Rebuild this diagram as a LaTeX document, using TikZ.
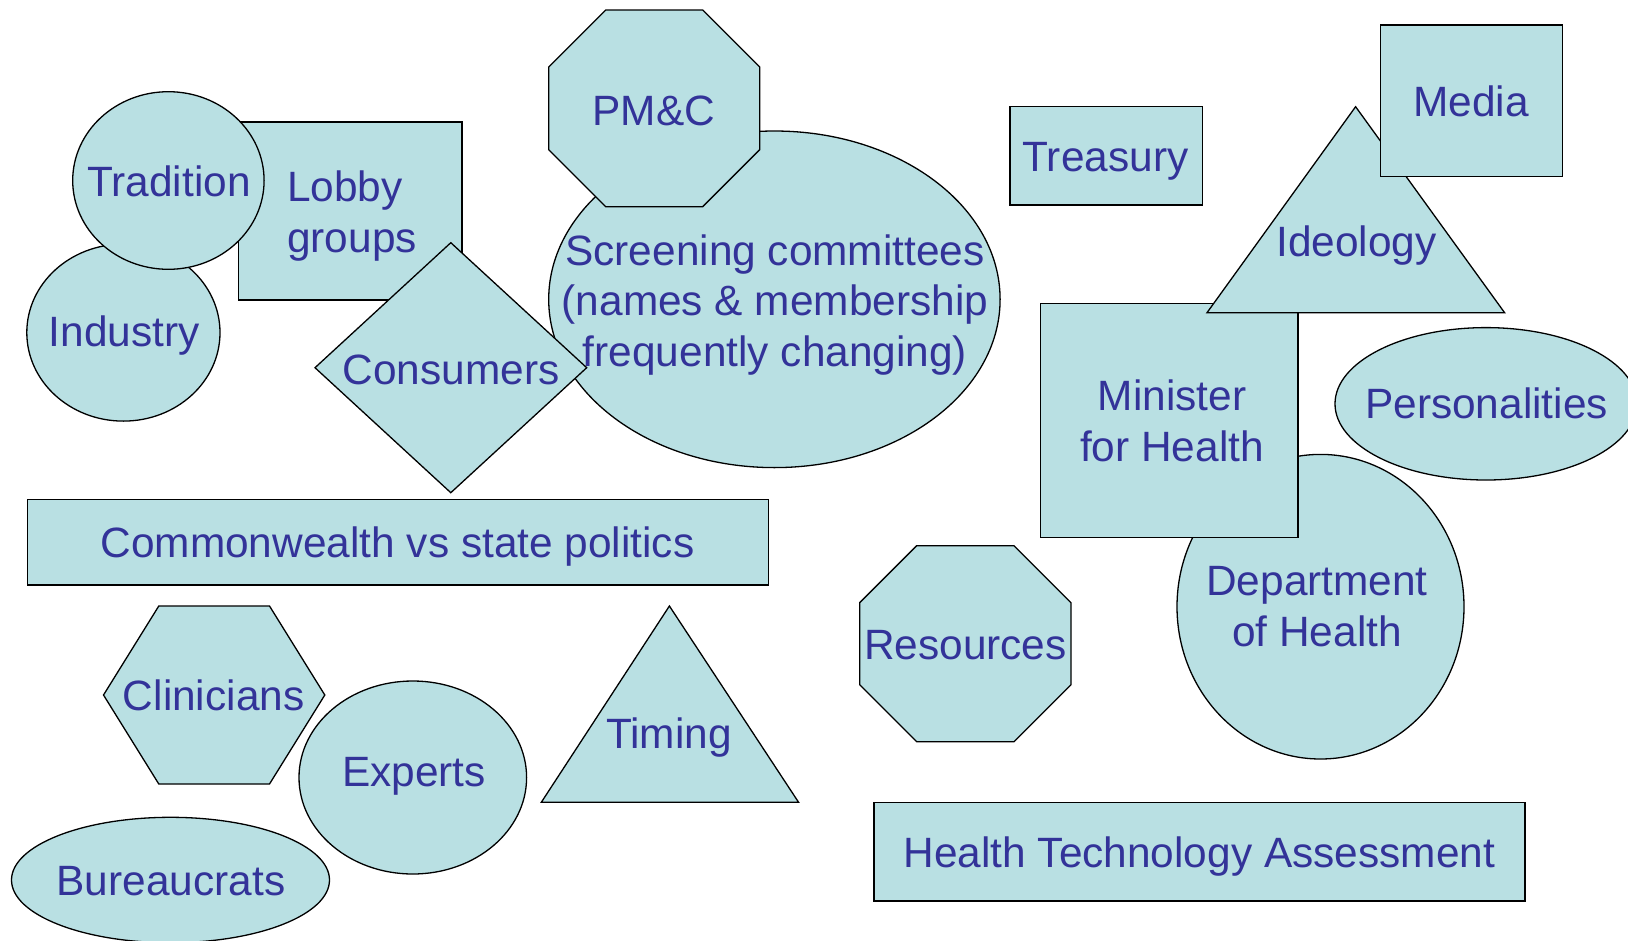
\documentclass[tikz,border=0pt]{standalone}
\usepackage{fontspec}
\setmainfont{Liberation Sans}
\definecolor{shapefill}{RGB}{185,224,227}
\definecolor{txtcol}{RGB}{51,51,153}
\begin{document}
\begin{tikzpicture}[x=1pt,y=-1pt,
  shp/.style={draw=black, fill=shapefill, line width=1.3pt, line join=miter},
  txt/.style={text=txtcol, font=\fontsize{42.4}{50.8}\selectfont, inner sep=0pt, align=center, anchor=base}]
\clip (0,0) rectangle (1628,940);
\fill[white] (0,0) rectangle (1628,940);
% --- top left cluster
\draw[shp] (238.8,122) rectangle (462,300);
\node[txt, align=left, anchor=base west] (lobby) at (287,252.3) {Lobby\\groups};
\draw[shp] (123.4,332.6) ellipse [x radius=96.6pt, y radius=88.5pt];
\node[txt] (industry) at (124.4,346.7) {Industry};
\draw[shp] (168.4,180.5) ellipse [x radius=95.7pt, y radius=88.8pt];
\node[txt] (tradition) at (169,196.7) {Tradition};
\draw[shp] (774.4,299.3) ellipse [x radius=225.7pt, y radius=168.3pt];
\node[txt] (screening) at (775,366.6) {Screening committees\\(names \& membership\\frequently changing)};
\draw[shp] (605.7,10) -- (702.7,10) -- (759.7,67) -- (759.7,149.7) -- (702.7,206.7) -- (605.7,206.7) -- (548.7,149.7) -- (548.7,67) -- cycle;
\node[txt] (pmc) at (653.9,125) {PM\&C};
\draw[shp] (315,367.7) -- (450.8,242.7) -- (586.7,367.7) -- (450.8,492.7) -- cycle;
\node[txt] (consumers) at (451,384) {Consumers};
% --- top right cluster
\draw[shp] (1010,106.7) rectangle (1202.7,205);
\node[txt] (treasury) at (1105.5,171.7) {Treasury};
\draw[shp] (1320.5,606.7) ellipse [x radius=143.5pt, y radius=152.3pt];
\node[txt] (dept) at (1317,646.5) {Department\\of Health};
\draw[shp] (1040.5,303.3) rectangle (1298,537.7);
\node[txt] (minister) at (1172,461.5) {Minister\\for Health};
\draw[shp] (1355.6,106.7) -- (1504.6,312.7) -- (1207,312.7) -- cycle;
\node[txt] (ideology) at (1356.4,256.7) {Ideology};
\draw[shp] (1380.5,25) rectangle (1562.3,176.7);
\node[txt] (media) at (1471,116.7) {Media};
\draw[shp] (1486,403.8) ellipse [x radius=151pt, y radius=76.2pt];
\node[txt] (personalities) at (1486.6,418.3) {Personalities};
% --- bottom left
\draw[shp] (27.2,499.3) rectangle (768.8,585);
\node[txt] (commonwealth) at (397.5,557.7) {Commonwealth vs state politics};
\draw[shp] (103.5,695) -- (158.8,606) -- (269.5,606) -- (324.8,695) -- (269.5,784) -- (158.8,784) -- cycle;
\node[txt] (clinicians) at (213.7,710) {Clinicians};
\draw[shp] (412.8,777.5) ellipse [x radius=113.8pt, y radius=96.5pt];
\node[txt] (experts) at (414,786) {Experts};
\draw[shp] (170.5,880) ellipse [x radius=159pt, y radius=62.7pt];
\node[txt] (bureaucrats) at (171,895) {Bureaucrats};
\draw[shp] (669.4,606) -- (798.6,802.3) -- (541.3,802.3) -- cycle;
\node[txt] (timing) at (669,748.3) {Timing};
% --- bottom right
\draw[shp] (916.7,545.7) -- (1014,545.7) -- (1071,602.7) -- (1071,684.7) -- (1014,741.7) -- (916.7,741.7) -- (859.7,684.7) -- (859.7,602.7) -- cycle;
\node[txt] (resources) at (965.4,659) {Resources};
\draw[shp] (874,802.7) rectangle (1525,901);
\node[txt] (hta) at (1199.3,867.3) {Health Technology Assessment};
\end{tikzpicture}
\end{document}
